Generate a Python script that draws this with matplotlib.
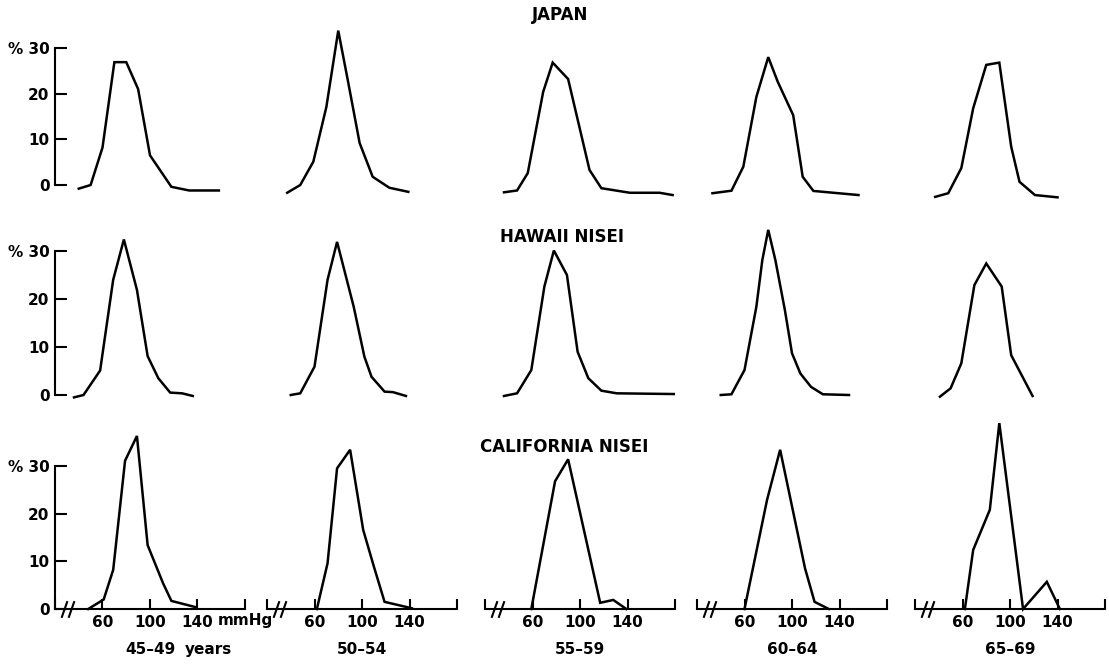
import matplotlib
matplotlib.use("Agg")
import matplotlib.pyplot as plt

plt.rcParams['font.family'] = ['DejaVu Sans']
plt.rcParams['font.weight'] = 'bold'

# ---- data (diastolic blood pressure distributions, % by mmHg) ----
row_titles = ["JAPAN", "HAWAII NISEI", "CALIFORNIA NISEI"]
age_labels = ["45\u201349", "50\u201354", "55\u201359", "60\u201364", "65\u201369"]
x_ticks = [20, 60, 100, 140, 180]
x_tick_labels = ["", "60", "100", "140", ""]
y_ticks = [0, 10, 20, 30]
y_tick_labels = ["0", "10", "20", "% 30"]

japan_x = [
    [40, 50, 60, 70, 80, 90, 100, 118, 133, 158],
    [37, 48, 59, 70, 80, 88, 98, 109, 123, 139],
    [36, 47, 56, 69, 77, 90, 108, 118, 142, 167, 178],
    [33, 49, 59, 70, 80, 88, 101, 109, 118, 156],
    [37, 48, 59, 69, 80, 91, 101, 108, 121, 140],
]
japan_y = [
    [-0.8, 0, 8.2, 26.9, 26.9, 21, 6.5, -0.4, -1.2, -1.2],
    [-1.7, 0, 5.1, 17.1, 33.8, 23, 9.2, 1.8, -0.6, -1.5],
    [-1.6, -1.2, 2.6, 20.4, 26.8, 23.2, 3.3, -0.7, -1.7, -1.7, -2.2],
    [-1.8, -1.25, 4.0, 19.3, 28, 22.6, 15.3, 1.8, -1.3, -2.2],
    [-2.6, -1.8, 3.7, 16.8, 26.3, 26.8, 8.4, 0.7, -2.2, -2.7],
]
hawaii_x = [
    [36, 44, 58, 69, 78, 89, 98, 107, 117, 127, 136],
    [40, 48, 60, 71, 79, 93, 102, 108, 119, 126, 137],
    [36, 47, 59, 70, 78, 89, 98, 107, 118, 131, 179],
    [40, 49, 60, 70, 75, 80, 86, 94, 100, 107, 116, 126, 148],
    [41, 50, 59, 70, 80, 93, 101, 119],
]
hawaii_y = [
    [-0.5, 0, 5.1, 24, 32.4, 21.9, 8.1, 3.5, 0.5, 0.35, -0.2],
    [0, 0.35, 5.9, 24, 31.9, 18.4, 8, 3.8, 0.7, 0.6, -0.2],
    [-0.2, 0.35, 5.2, 22.6, 30.1, 25, 9, 3.5, 0.9, 0.35, 0.2],
    [0, 0.15, 5.2, 18.4, 28.1, 34.4, 28.1, 17.7, 8.7, 4.5, 1.7, 0.15, 0],
    [-0.35, 1.4, 6.6, 22.9, 27.4, 22.6, 8.3, -0.2],
]
california_x = [
    [48, 61, 69, 79, 89, 98, 111, 118, 139],
    [62, 71, 79, 90, 101, 110, 119, 142],
    [59, 79, 90, 117, 128, 139],
    [60, 79, 90, 111, 119, 131],
    [62, 69, 83, 91, 111, 131, 142],
]
california_y = [
    [0, 2.0, 8.2, 31.1, 36.3, 13.4, 5.4, 1.7, 0.35],
    [0, 9.6, 29.5, 33.4, 16.6, 8.9, 1.5, 0.15],
    [0, 26.8, 31.4, 1.3, 1.9, 0],
    [0, 22.9, 33.4, 8.5, 1.5, 0],
    [0, 12.4, 20.8, 39, 0, 5.7, 0],
]
rows_x = [japan_x, hawaii_x, california_x]
rows_y = [japan_y, hawaii_y, california_y]

# ---- layout (pixels) ----
W, H = 1109, 672
fig = plt.figure(figsize=(W / 100, H / 100), dpi=100)
lefts = [55, 267, 485, 697, 915]
panel_w = 190
row_zero = [185, 395, 609]
row_scale = [4.567, 4.8, 4.767]
ylo, yhi = -4, 42
title_pos = [(560, 15), (562, 237), (564, 447)]

lw = 1.8
for r in range(3):
    for c in range(5):
        y0, k = row_zero[r], row_scale[r]
        bot_px = y0 - ylo * k
        top_px = y0 - yhi * k
        ax = fig.add_axes([lefts[c] / W, 1 - bot_px / H, panel_w / W,
                           (bot_px - top_px) / H])
        ax.patch.set_visible(False)
        ax.set_xlim(20, 180)
        ax.set_ylim(ylo, yhi)
        for s in ['top', 'right']:
            ax.spines[s].set_visible(False)
        ax.plot(rows_x[r][c], rows_y[r][c], color='black', lw=lw,
                solid_joinstyle='miter', clip_on=False)

        # y axis
        if c == 0:
            ax.spines['left'].set_bounds(0, 30)
            ax.spines['left'].set_linewidth(1.5)
            ax.set_yticks(y_ticks)
            ax.set_yticklabels(y_tick_labels)
            ax.tick_params(axis='y', direction='in', length=8.5, width=1.5,
                           pad=4, labelsize=11)
        else:
            ax.spines['left'].set_visible(False)
            ax.set_yticks([])

        # x axis
        if r == 2:
            ax.spines['bottom'].set_position(('data', 0))
            ax.spines['bottom'].set_bounds(20, 180)
            ax.spines['bottom'].set_linewidth(1.5)
            ax.set_xticks(x_ticks)
            ax.set_xticklabels(x_tick_labels)
            ax.tick_params(axis='x', direction='in', length=7, width=1.5,
                           pad=4, labelsize=11)
            # axis break marks "//"
            ax.plot([27.6, 33.4], [0, 0], linestyle='none',
                    marker=[(-0.35, -1), (0.35, 1)], markersize=12,
                    markeredgewidth=1.5, color='black', clip_on=False)
            ax.annotate(age_labels[c], xy=(100, 0), xytext=(0, -29.5),
                        textcoords='offset points', ha='center', va='center',
                        fontsize=11, fontweight='bold')
            if c == 0:
                ax.annotate("years", xy=(149, 0), xytext=(0, -29.5),
                            textcoords='offset points', ha='center',
                            va='center', fontsize=11, fontweight='bold')
                ax.annotate("mmHg", xy=(180, 0), xytext=(0, -8),
                            textcoords='offset points', ha='center',
                            va='center', fontsize=11, fontweight='bold')
        else:
            ax.spines['bottom'].set_visible(False)
            ax.set_xticks([])

for t, (tx, ty) in zip(row_titles, title_pos):
    fig.text(tx / W, 1 - ty / H, t, ha='center', va='center',
             fontsize=12, fontweight='bold')

fig.savefig("out.png", dpi=100)
